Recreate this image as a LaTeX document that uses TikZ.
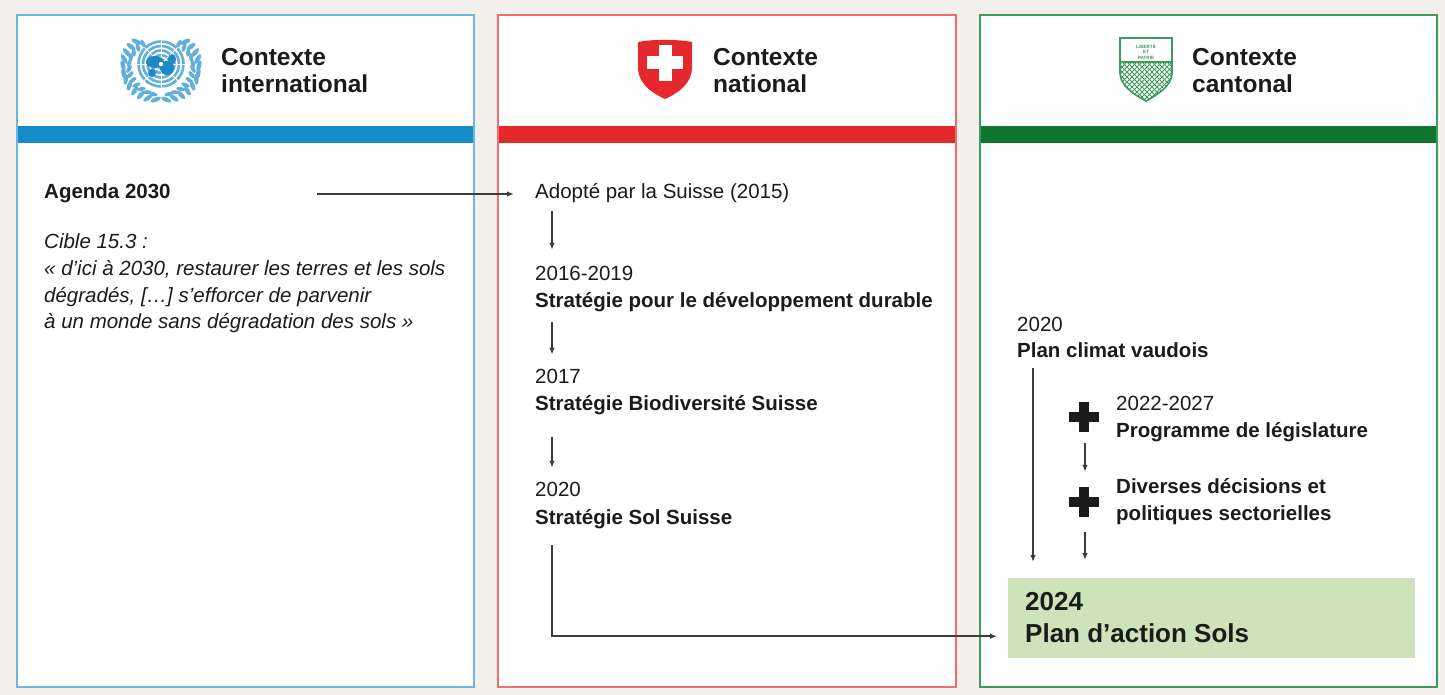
\documentclass[tikz,border=0pt]{standalone}
\usepackage{fontspec}
\setmainfont{Liberation Sans}
\usepackage{tikz}
\usetikzlibrary{arrows.meta}

\definecolor{bgbeige}{HTML}{F3EFEA}
\definecolor{unblue}{HTML}{138CC7}
\definecolor{unedge}{HTML}{6DB6DF}
\definecolor{unlogo}{HTML}{62AEDC}
\definecolor{unland}{HTML}{1E88C6}
\definecolor{chred}{HTML}{E4282B}
\definecolor{chedge}{HTML}{EE6E70}
\definecolor{vdgreen}{HTML}{0F762F}
\definecolor{vdedge}{HTML}{3F9B58}
\definecolor{vdhatch}{HTML}{3E9A5A}
\definecolor{goalfill}{HTML}{CEE3BA}
\definecolor{ink}{HTML}{1B1B1B}
\definecolor{arrgray}{HTML}{3C3C3C}

\tikzset{
  txt/.style={anchor=base west, inner sep=0pt, text height=15pt, text depth=5pt, text=ink, font=\fontsize{20.5}{26}\selectfont},
  txtb/.style={txt, font=\fontsize{20.5}{26}\selectfont\bfseries},
  txti/.style={txt, font=\fontsize{20.5}{26}\selectfont\itshape},
  head/.style={anchor=base west, inner sep=0pt, text=ink, font=\fontsize{24.5}{27}\selectfont\bfseries},
  big/.style={anchor=base west, inner sep=0pt, text=ink, font=\fontsize{26}{30}\selectfont\bfseries},
  goalbox/.style={fill=goalfill, minimum width=407pt, minimum height=80pt, inner sep=0pt},
  plusmark/.style={minimum size=30pt, inner sep=0pt},
  vdtiny/.style={inner sep=0pt, text=vdhatch, font=\fontsize{4.6}{5}\selectfont\bfseries},
  arr/.style={draw=arrgray, line width=1.5pt, -{Latex[length=7pt,width=5.5pt]}}
}

\begin{document}
\begin{tikzpicture}[x=1pt, y=-1pt]
    % Page and background
    \useasboundingbox (0,0) rectangle (1445,695);
    \fill[bgbeige] (0,0) rectangle (1445,695);

    % Three panels
    \foreach \xa/\xb/\bc/\ec in {17/474/unblue/unedge, 498/956/chred/chedge, 980/1437/vdgreen/vdedge} {
      \fill[white] (\xa,15) rectangle (\xb,687);
      \fill[\bc] (\xa,126) rectangle (\xb,143);
      \draw[\ec, line width=1.8pt] (\xa,15) rectangle (\xb,687);
    }

    % Headers
    \foreach \x/\w in {221/international, 713/national, 1192/cantonal} {
      \node[head] (ctx-\w) at (\x,66) {Contexte};
      \node[head] (lvl-\w) at (\x,93) {\w};
    }

    % UN emblem
    \begin{scope}[shift={(161,67)}, yscale=-1, unlogo]
      \begin{scope}[shift={(0,3)}]
        \foreach \r in {4.5,9,13.5,18,22.5} \draw[line width=2.6pt] (0,0) circle (\r);
        \foreach \a in {0,45,...,315} \draw[white, line width=0.8pt] (\a:3) -- (\a:24);
        \fill[unland] (-6,2) ellipse (9 and 6);
        \fill[unland] (6,-4) ellipse (7 and 7);
        \fill[unland] (-9,-9) ellipse (4 and 4);
        \fill[unland] (11,5) ellipse (4 and 5);
        \fill[white] (0,0) circle (2.2);
      \end{scope}
      \foreach \a in {-82,-70,...,50} {
        \fill[rotate around={\a+105:(\a:38 and 33)}] (\a:38 and 33) ellipse (5.5 and 2.3);
        \fill[rotate around={-\a-105:(180-\a:38 and 33)}] (180-\a:38 and 33) ellipse (5.5 and 2.3);
        \fill[rotate around={\a+70:(\a+6:32 and 28)}] (\a+6:32 and 28) ellipse (4.5 and 2);
        \fill[rotate around={-\a-70:(174-\a:32 and 28)}] (174-\a:32 and 28) ellipse (4.5 and 2);
      }
    \end{scope}

    % Swiss shield
    \begin{scope}[shift={(665,40)}]
      \fill[chred] (-27,2) .. controls (-9,-1) and (9,-1) .. (27,2) -- (27,27)
        .. controls (27,44) and (13,53) .. (0,59) .. controls (-13,53) and (-27,44) .. (-27,27) -- cycle;
      \fill[white] (-6.5,5) rectangle (6.5,41);
      \fill[white] (-18,16.5) rectangle (18,29.5);
    \end{scope}

    % Vaud shield
    \begin{scope}[shift={(1146,38)}]
      \begin{scope}
        \clip (-26,24) -- (26,24) -- (26,35) .. controls (26,48) and (11,57) .. (0,63)
          .. controls (-11,57) and (-26,48) .. (-26,35) -- cycle;
        \foreach \d in {-64,-59,...,64} {
          \draw[vdhatch, line width=0.9pt] (\d,24) -- ++(40,40);
          \draw[vdhatch, line width=0.9pt] (\d,24) -- ++(-40,40);
        }
      \end{scope}
      \draw[vdhatch, line width=1.6pt] (-26,0) -- (26,0) -- (26,35)
        .. controls (26,48) and (11,57) .. (0,63) .. controls (-11,57) and (-26,48) .. (-26,35) -- cycle;
      \draw[vdhatch, line width=1.4pt] (-26,24) -- (26,24);
      \node[vdtiny] (vd-lib) at (0,8) {LIBERTÉ};
      \node[vdtiny] (vd-et) at (0,14) {ET};
      \node[vdtiny] (vd-pat) at (0,20) {PATRIE};
    \end{scope}

    % International column
    \node[txtb] (agenda) at (44,199) {Agenda 2030};
    \foreach \i/\y/\t in {1/248/{Cible 15.3~:}, 2/275/{« d’ici à 2030, restaurer les terres et les sols},
        3/302/{dégradés, […] s’efforcer de parvenir}, 4/328/{à un monde sans dégradation des sols »}}
      \node[txti] (cible\i) at (44,\y) {\t};

    % National column
    \node[txt] (adopt) at (535,199) {Adopté par la Suisse (2015)};
    \node[txt] (y16) at (535,280) {2016-2019};
    \node[txtb] (s16) at (535,307) {Stratégie pour le développement durable};
    \node[txt] (y17) at (535,383) {2017};
    \node[txtb] (s17) at (535,410) {Stratégie Biodiversité Suisse};
    \node[txt] (y20) at (535,496) {2020};
    \node[txtb] (s20) at (535,524) {Stratégie Sol Suisse};

    % Cantonal column
    \node[txt] (y20c) at (1017,331) {2020};
    \node[txtb] (pcv) at (1017,357) {Plan climat vaudois};
    \node[txt] (y22) at (1116,410) {2022-2027};
    \node[txtb] (pleg) at (1116,437) {Programme de législature};
    \node[txtb] (div1) at (1116,493) {Diverses décisions et};
    \node[txtb] (div2) at (1116,520) {politiques sectorielles};
    \foreach \n/\y in {1/417, 2/502} {
      \node[plusmark] (plus\n) at (1084,\y) {};
      \draw[ink, line width=9.5pt] (plus\n.north) -- (plus\n.south) (plus\n.west) -- (plus\n.east);
    }
    \node[goalbox, anchor=north west] (goal) at (1008,578) {};
    \node[big] (g-year) at (1025,610) {2024};
    \node[big] (g-plan) at (1025,642) {Plan d’action Sols};

    % Connectors
    \coordinate (agline) at (317,0);
    \draw[arr] (agline |- adopt.west) -- ([xshift=-21pt]adopt.west);
    \draw[arr] ([xshift=17pt,yshift=-7pt]adopt.south west) -- ([xshift=17pt,yshift=15pt]y16.north west);
    \draw[arr] ([xshift=17pt,yshift=-10pt]s16.south west) -- ([xshift=17pt,yshift=13pt]y17.north west);
    \draw[arr] ([xshift=17pt,yshift=-22pt]s17.south west) -- ([xshift=17pt,yshift=13pt]y20.north west);
    \draw[arr] ([xshift=17pt,yshift=-16pt]s20.south west) |- ([xshift=-11pt,yshift=-18pt]goal.west);
    \draw[arr] ([xshift=16pt,yshift=-6pt]pcv.south west) coordinate (pcvfoot) -- ([yshift=16pt]pcvfoot |- goal.north);
    \draw[arr] ([xshift=-31pt,yshift=-1pt]pleg.south west) -- ([xshift=-31pt,yshift=6pt]div1.north west);
    \draw[arr] ([xshift=-31pt,yshift=-7pt]div2.south west) coordinate (divfoot) -- ([yshift=18pt]divfoot |- goal.north);

\end{tikzpicture}
\end{document}
